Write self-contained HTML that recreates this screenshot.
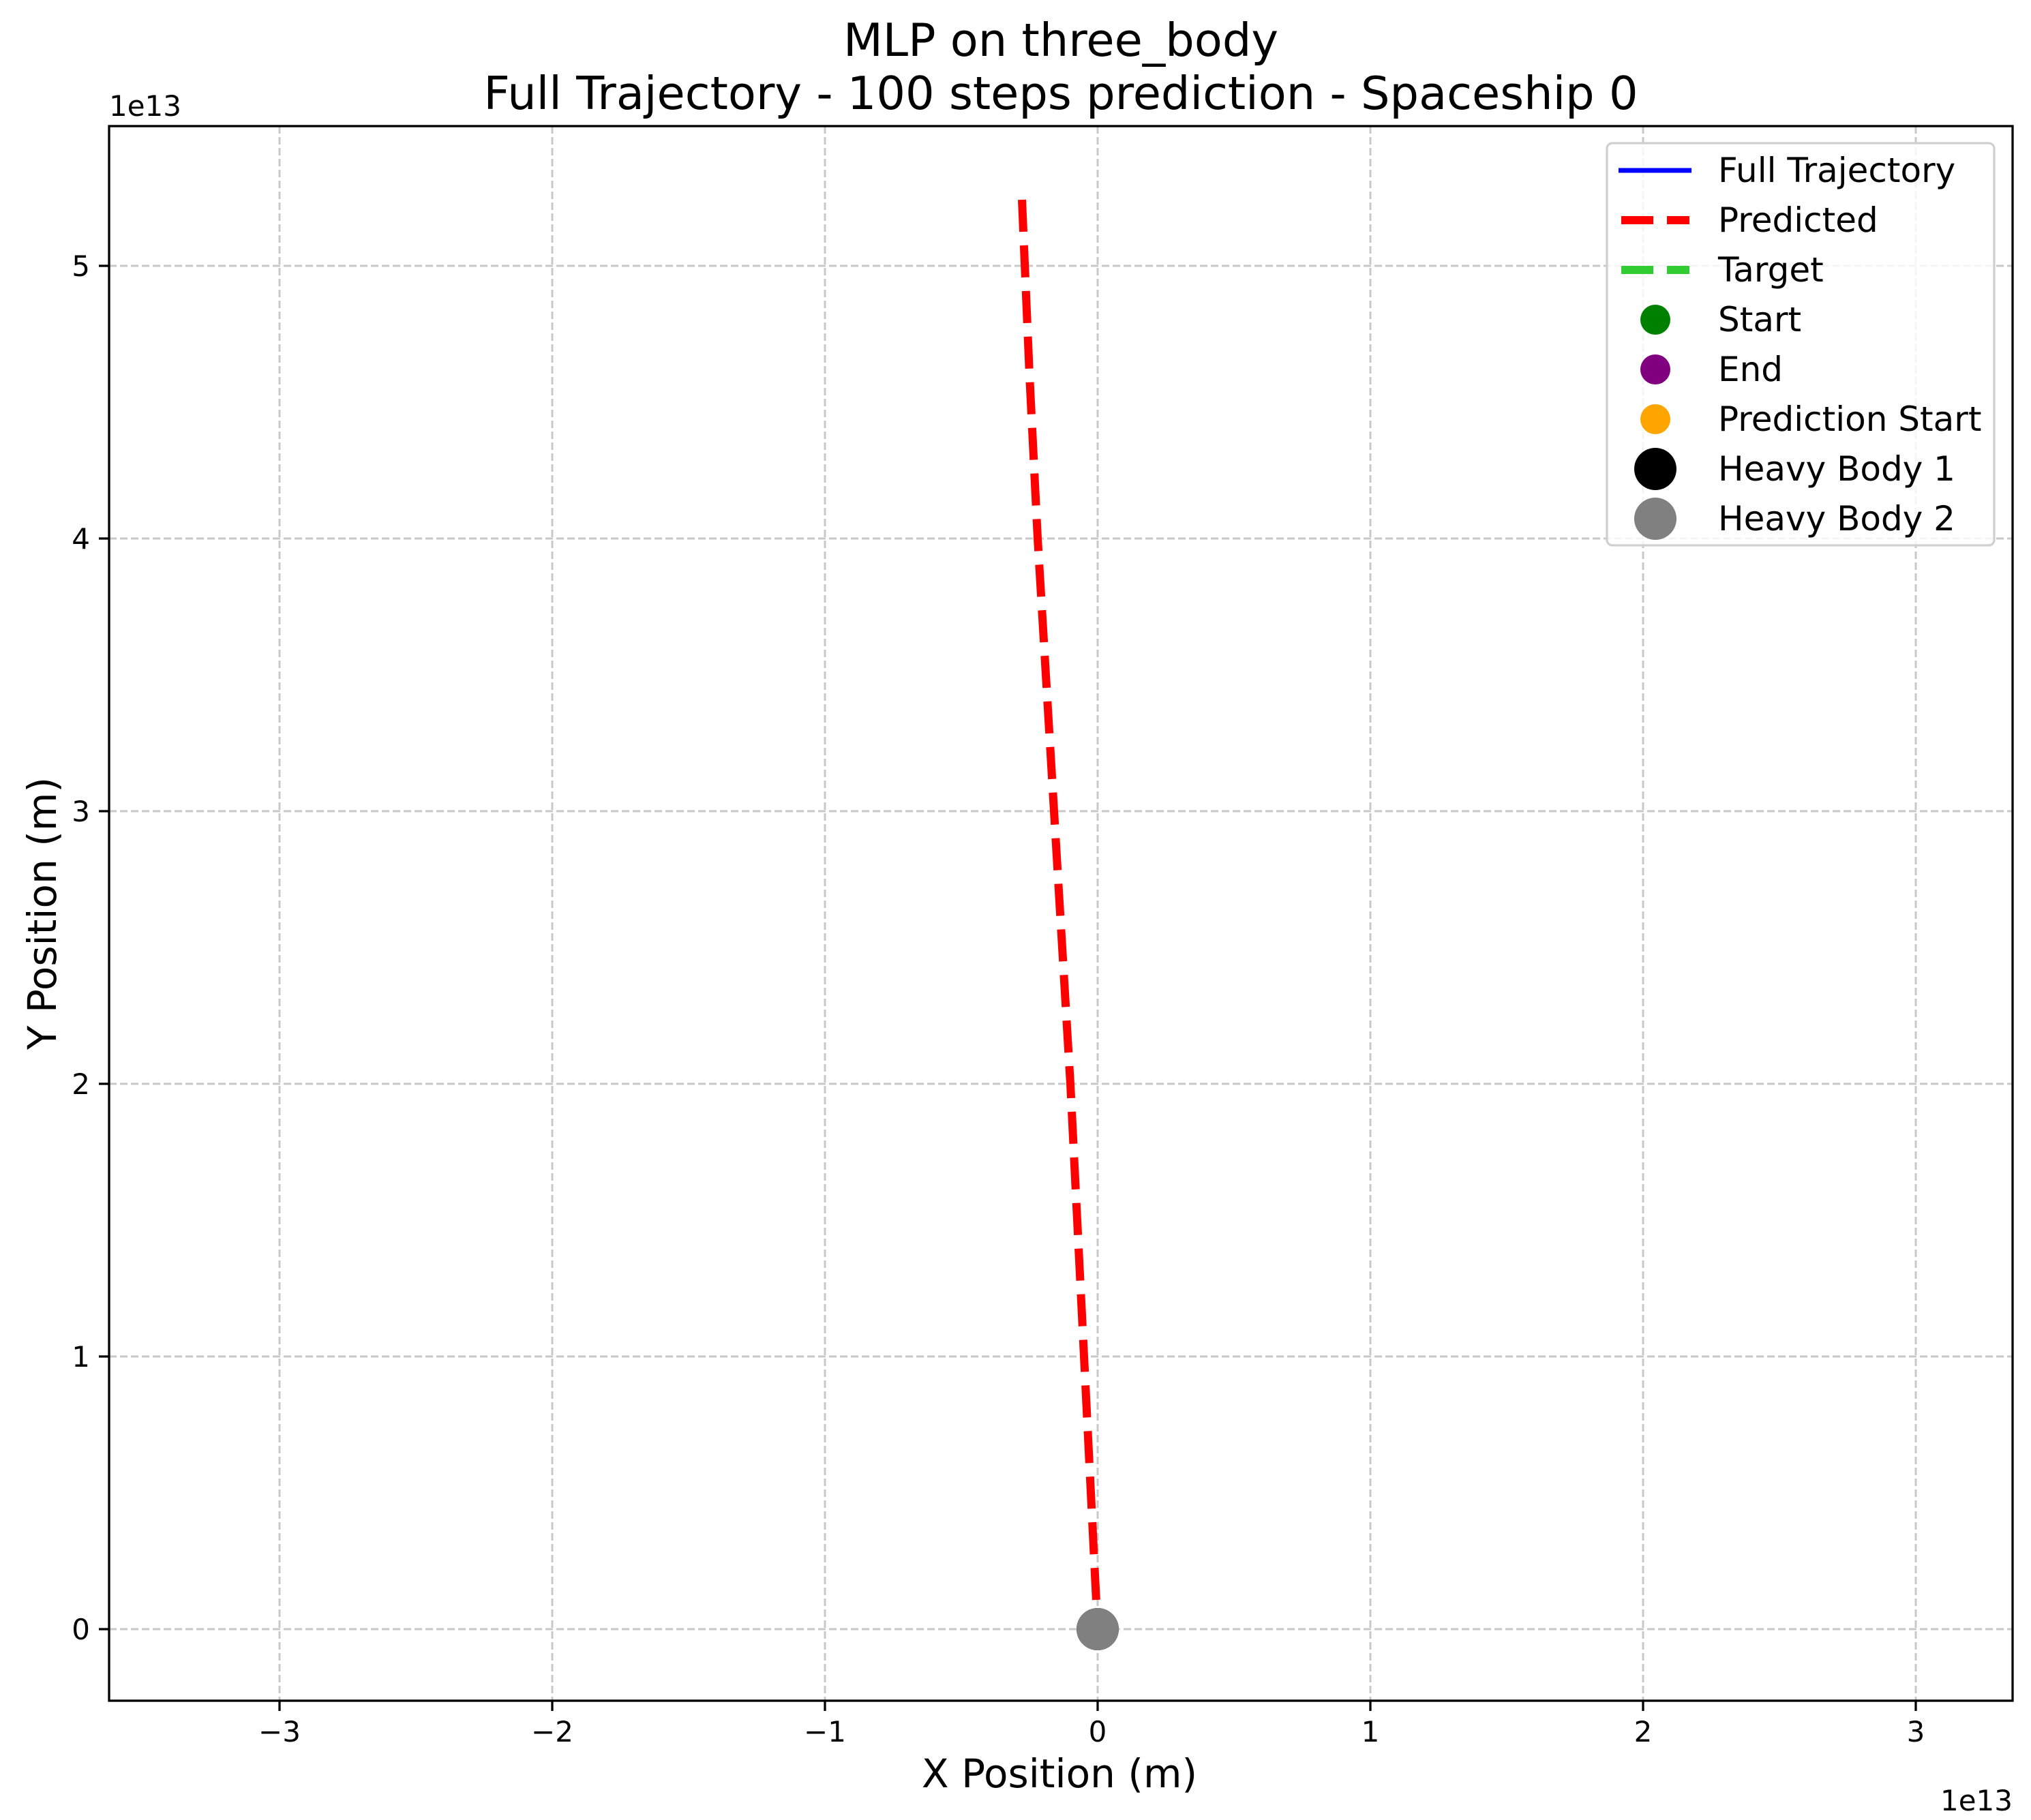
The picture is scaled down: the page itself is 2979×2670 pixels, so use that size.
<!DOCTYPE html>
<html><head><meta charset="utf-8"><style>
html,body{margin:0;padding:0;background:#fff;}
svg{display:block;font-family:"DejaVu Sans","Liberation Sans",sans-serif;}
</style></head><body>
<svg id="chart" width="2979" height="2670" viewBox="0 0 2979 2670" xmlns="http://www.w3.org/2000/svg">
<rect width="2979" height="2670" fill="#fff"/>
<text x="1556" y="82" font-size="67" text-anchor="middle">MLP on three_body</text>
<text x="1556" y="160" font-size="67" text-anchor="middle">Full Trajectory - 100 steps prediction - Spaceship 0</text>
<g id="grid"></g>
<g id="series"></g>
<rect x="160" y="185" width="2792" height="2310" fill="none" stroke="#000" stroke-width="3.3"/>
<g id="ticks"></g>
<text x="160" y="170" font-size="42">1e13</text>
<text x="2952" y="2656" font-size="42" text-anchor="end">1e13</text>
<text x="1554" y="2622" font-size="58" text-anchor="middle">X Position (m)</text>
<text x="0" y="0" font-size="58" text-anchor="middle" transform="translate(82,1340) rotate(-90)">Y Position (m)</text>
<g>
<rect x="2357" y="210" width="568" height="590" rx="8" fill="#fff" fill-opacity="0.8" stroke="#d0d0d0" stroke-width="3.3"/>
<g font-size="50">
<line x1="2374" y1="250" x2="2481" y2="250" stroke="#0000ff" stroke-width="7"/>
<text x="2520" y="267">Full Trajectory</text>
<line x1="2378" y1="323" x2="2478" y2="323" stroke="#ff0000" stroke-width="12" stroke-dasharray="47,20"/>
<text x="2520" y="340">Predicted</text>
<line x1="2378" y1="396" x2="2478" y2="396" stroke="#32cd32" stroke-width="12" stroke-dasharray="47,20"/>
<text x="2520" y="413">Target</text>
<circle cx="2428" cy="469" r="22" fill="#008000"/>
<text x="2520" y="486">Start</text>
<circle cx="2428" cy="542" r="22" fill="#800080"/>
<text x="2520" y="559">End</text>
<circle cx="2428" cy="615" r="22" fill="#ffa500"/>
<text x="2520" y="632">Prediction Start</text>
<circle cx="2428" cy="688" r="31" fill="#000"/>
<text x="2520" y="705">Heavy Body 1</text>
<circle cx="2428" cy="761" r="31" fill="#808080"/>
<text x="2520" y="778">Heavy Body 2</text>
</g>
</g>
</svg>
<script>
const xTicks = [-3, -2, -1, 0, 1, 2, 3];
const yTicks = [0, 1, 2, 3, 4, 5];
const predX = [-0.2775, -0.25, -0.22, -0.19, -0.16, -0.13, -0.10, -0.075, -0.05, -0.025, 0];
const predY = [5.2425, 4.6, 4.0, 3.5, 3.0, 2.5, 2.0, 1.5, 1.0, 0.5, 0];
const heavyX = [0, 0];
const heavyY = [0, 0];

const NS = "http://www.w3.org/2000/svg";
const L = 160, R = 2952, T = 185, B = 2495;
const xMin = -3.625, xMax = 3.355, yMin = -0.2625, yMax = 5.5125;
function sx(v){ return L + (v - xMin) / (xMax - xMin) * (R - L); }
function sy(v){ return B - (v - yMin) / (yMax - yMin) * (B - T); }
function mk(tag, attrs, parent){ const e = document.createElementNS(NS, tag); for (const k in attrs) e.setAttribute(k, attrs[k]); parent.appendChild(e); return e; }

const grid = document.getElementById('grid');
const ticks = document.getElementById('ticks');
const series = document.getElementById('series');

xTicks.forEach(v => {
  const x = sx(v);
  const g = mk('line', {x1:x, y1:T, x2:x, y2:B, stroke:'#c8c8c8', 'stroke-width':3, 'stroke-dasharray':'11,5'}, grid);
  
  
  const t = mk('line', {x1:x, y1:B, x2:x, y2:B+15, stroke:'#000', 'stroke-width':3.3}, ticks);
  
  
  const lb = mk('text', {x:x, y:B+60, 'font-size':42, 'text-anchor':'middle'}, ticks);
  lb.textContent = v < 0 ? '\u2212' + Math.abs(v) : String(v);
  
  
});
yTicks.forEach(v => {
  const y = sy(v);
  const g = mk('line', {x1:L, y1:y, x2:R, y2:y, stroke:'#c8c8c8', 'stroke-width':3, 'stroke-dasharray':'11,5'}, grid);
  
  
  const t = mk('line', {x1:L-15, y1:y, x2:L, y2:y, stroke:'#000', 'stroke-width':3.3}, ticks);
  
  
  const lb = mk('text', {x:L-28, y:y+15, 'font-size':42, 'text-anchor':'end'}, ticks);
  lb.textContent = String(v);
  
  
});

const pts = predX.map((v, i) => sx(v).toFixed(1) + ',' + sy(predY[i]).toFixed(1)).join(' ');
const pl = mk('polyline', {points:pts, fill:'none', stroke:'#ff0000', 'stroke-width':12, 'stroke-dasharray':'47,20'}, series);



const h1 = mk('circle', {cx:sx(heavyX[0]), cy:sy(heavyY[0]), r:31, fill:'#000'}, series);


const h2 = mk('circle', {cx:sx(heavyX[1]), cy:sy(heavyY[1]), r:31, fill:'#808080'}, series);


</script>
</body></html>
